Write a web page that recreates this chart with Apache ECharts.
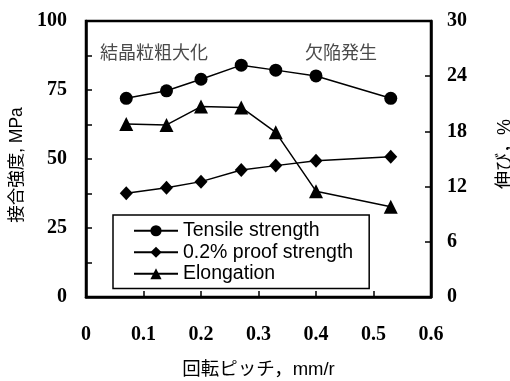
<!DOCTYPE html>
<html><head><meta charset="utf-8">
<script src="https://cdn.jsdelivr.net/npm/echarts@6/dist/echarts.min.js"></script>
<style>html,body{margin:0;padding:0;background:#fff}#c{width:510px;height:381px}</style>
</head><body><div id="c"></div>
<script>
const pitch = [0.07, 0.14, 0.2, 0.27, 0.33, 0.4, 0.53];
const tensile = [72.0, 74.7, 78.9, 84.0, 82.2, 80.1, 72.0];
const proof = [37.6, 39.6, 41.8, 46.0, 47.6, 49.4, 50.8];
const elongation = [18.8, 18.7, 20.7, 20.6, 17.9, 11.5, 9.8];
const seriesNames = ['Tensile strength', '0.2% proof strength', 'Elongation'];
const notes = ['結晶粒粗大化', '欠陥発生'];
const xName = '回転ピッチ，mm/r';
const yLeftName = '接合強度, MPa';
const yRightName = '伸び，%';

const serif = 'Liberation Serif, Times New Roman, serif';
const sans = 'Liberation Sans, Noto Sans CJK JP, sans-serif';
const pair = arr => pitch.map((x, i) => [x, arr[i]]);
const lineCommon = {
  type: 'line', lineStyle: {color: '#000', width: 1.5},
  itemStyle: {color: '#000'}, emphasis: {disabled: true}
};
const chart = echarts.init(document.getElementById('c'), null, {renderer: 'canvas'});
chart.setOption({
  animation: false,
  grid: {left: 86, right: 79, top: 21, bottom: 84, show: true, borderColor: '#000', borderWidth: 2.5,
    containLabel: false, outerBoundsMode: 'none'},
  legend: {
    left: 113, top: 215, orient: 'vertical',
    data: seriesNames,
    itemWidth: 44, itemHeight: 14, itemGap: 2,
    padding: [6, 16, 5, 20],
    borderColor: '#000', borderWidth: 1.5,
    textStyle: {fontFamily: sans, fontSize: 19.5, color: '#000'},
    selectedMode: false
  },
  xAxis: {
    type: 'value', min: 0, max: 0.6, interval: 0.1,
    name: xName, nameLocation: 'middle', nameGap: 64,
    nameTextStyle: {fontFamily: sans, fontSize: 18.5, color: '#000'},
    axisLine: {lineStyle: {color: '#000', width: 2.5}},
    axisTick: {inside: true, length: 6, lineStyle: {color: '#000', width: 1.5}},
    axisLabel: {fontFamily: serif, fontSize: 20, fontWeight: 'bold', color: '#000', margin: 28,
      formatter: v => (Math.round(v * 10) / 10).toString()},
    splitLine: {show: false}
  },
  yAxis: [{
    type: 'value', min: 0, max: 100, interval: 12.5,
    name: yLeftName, nameLocation: 'middle', nameGap: 60, nameRotate: 90,
    nameTextStyle: {fontFamily: sans, fontSize: 17.5, color: '#000', padding: [0, 12, 0, 0]},
    axisLine: {show: true, lineStyle: {color: '#000', width: 2.5}},
    axisTick: {inside: true, length: 6, lineStyle: {color: '#000', width: 1.5}},
    axisLabel: {fontFamily: serif, fontSize: 20, fontWeight: 'bold', color: '#000', margin: 19,
      formatter: v => (v % 25 === 0 ? String(v) : '')},
    splitLine: {show: false}
  }, {
    type: 'value', min: 0, max: 30, interval: 6, position: 'right',
    name: yRightName, nameLocation: 'middle', nameGap: 65, nameRotate: 90,
    nameTextStyle: {fontFamily: sans, fontSize: 18, color: '#000', padding: [0, 0, 0, 10]},
    axisLine: {show: true, lineStyle: {color: '#000', width: 2.5}},
    axisTick: {inside: true, length: 6, lineStyle: {color: '#000', width: 1.5}},
    axisLabel: {fontFamily: serif, fontSize: 20, fontWeight: 'bold', color: '#000', margin: 16},
    splitLine: {show: false}
  }],
  graphic: [
    {type: 'text', left: 100, top: 45, style: {text: notes[0], fontFamily: sans, fontSize: 18, fill: '#4a4a4a'}},
    {type: 'text', left: 305, top: 45, style: {text: notes[1], fontFamily: sans, fontSize: 18, fill: '#4a4a4a'}}
  ],
  series: [
    Object.assign({}, lineCommon, {name: seriesNames[0], data: pair(tensile), symbol: 'circle', symbolSize: 13, yAxisIndex: 0}),
    Object.assign({}, lineCommon, {name: seriesNames[1], data: pair(proof), symbol: 'diamond', symbolSize: [13, 14], yAxisIndex: 0}),
    Object.assign({}, lineCommon, {name: seriesNames[2], data: pair(elongation), symbol: 'triangle', symbolSize: 14, yAxisIndex: 1})
  ]
});
</script></body></html>
